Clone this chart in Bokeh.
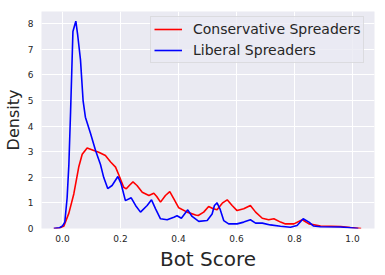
from bokeh.plotting import figure
from bokeh.models import Legend, LegendItem, FixedTicker, PrintfTickFormatter, Range1d, Title
from bokeh.embed import file_html
from bokeh.resources import INLINE

# Conservative spreaders KDE
cons_x = [-0.03, -0.01, 0.005, 0.022, 0.039, 0.056, 0.068, 0.085, 0.108, 0.125, 0.148, 0.166,
          0.183, 0.194, 0.211, 0.22, 0.232, 0.243, 0.257, 0.275, 0.298, 0.315, 0.325, 0.338,
          0.355, 0.37, 0.384, 0.401, 0.43, 0.459, 0.468, 0.487, 0.504, 0.52, 0.533, 0.551,
          0.568, 0.585, 0.602, 0.625, 0.648, 0.666, 0.689, 0.711, 0.729, 0.752, 0.769, 0.798,
          0.827, 0.85, 0.89, 0.959, 0.993, 1.03]
cons_y = [0.0, 0.02, 0.1, 0.6, 1.35, 2.4, 2.9, 3.15, 3.05, 2.98, 2.85, 2.6,
          2.4, 2.1, 1.61, 1.55, 1.7, 1.82, 1.68, 1.42, 1.29, 1.38, 1.25, 1.03,
          1.29, 1.44, 1.16, 0.81, 0.64, 0.53, 0.51, 0.64, 0.86, 0.77, 0.73, 0.99,
          1.12, 0.9, 0.7, 0.77, 0.9, 0.64, 0.4, 0.34, 0.38, 0.25, 0.18, 0.18,
          0.34, 0.18, 0.1, 0.08, 0.04, 0.0]

# Liberal spreaders KDE
lib_x = [-0.03, -0.01, 0.0, 0.008, 0.016, 0.022, 0.028, 0.036, 0.041, 0.046, 0.052, 0.062,
         0.071, 0.079, 0.097, 0.114, 0.131, 0.142, 0.156, 0.171, 0.191, 0.202, 0.217, 0.237,
         0.252, 0.269, 0.292, 0.307, 0.321, 0.338, 0.361, 0.384, 0.395, 0.41, 0.432, 0.447,
         0.47, 0.499, 0.516, 0.524, 0.533, 0.543, 0.556, 0.573, 0.602, 0.625, 0.648, 0.666,
         0.689, 0.717, 0.752, 0.786, 0.809, 0.83, 0.85, 0.865, 0.89, 0.959, 0.993, 1.02]
lib_y = [0.0, 0.03, 0.1, 0.25, 1.2, 2.5, 4.6, 7.7, 7.9, 8.1, 7.6, 6.6,
         5.0, 4.35, 3.7, 3.05, 2.5, 2.0, 1.56, 1.68, 2.03, 1.75, 1.09, 1.2,
         0.9, 0.64, 0.9, 1.12, 0.77, 0.38, 0.34, 0.44, 0.5, 0.4, 0.73, 0.47,
         0.28, 0.31, 0.57, 0.9, 1.0, 0.77, 0.31, 0.18, 0.18, 0.25, 0.34, 0.21,
         0.21, 0.14, 0.09, 0.05, 0.12, 0.38, 0.25, 0.1, 0.07, 0.06, 0.03, 0.0]

series_names = ["Conservative Spreaders", "Liberal Spreaders"]
x_ticks = [0.0, 0.2, 0.4, 0.6, 0.8, 1.0]
y_ticks = [0, 1, 2, 3, 4, 5, 6, 7, 8]
x_title = "Bot Score"
y_title = "Density"

FONT = "DejaVu Sans"
BG = "#EAEAF2"
TXT = "#262626"

p = figure(width=385, height=275, output_backend="svg", toolbar_location=None,
           x_range=Range1d(-0.0724, 1.076), y_range=Range1d(0, 8.48),
           min_border_left=41, min_border_right=11, min_border_top=11, min_border_bottom=47)
p.background_fill_color = BG
p.border_fill_color = "white"
p.outline_line_color = None

r1 = p.line(cons_x, cons_y, line_color="#ff0000", line_width=1.6)
r2 = p.line(lib_x, lib_y, line_color="#0000ff", line_width=1.6)

for ax in (p.xaxis[0], p.yaxis[0]):
    ax.axis_line_color = None
    ax.major_tick_line_color = None
    ax.minor_tick_line_color = None
    ax.major_tick_out = 0
    ax.major_tick_in = 0
    ax.minor_tick_out = 0
    ax.minor_tick_in = 0
    ax.major_label_text_font = FONT
    ax.major_label_text_font_size = "9px"
    ax.major_label_text_color = TXT
    ax.axis_label_text_font = FONT
    ax.axis_label_text_font_style = "normal"
    ax.axis_label_text_color = TXT

p.xaxis[0].ticker = FixedTicker(ticks=x_ticks)
p.xaxis[0].formatter = PrintfTickFormatter(format="%.1f")
p.xaxis[0].major_label_standoff = 6

p.yaxis[0].ticker = FixedTicker(ticks=y_ticks)
p.yaxis[0].axis_label = y_title
p.yaxis[0].axis_label_text_font_size = "16px"
p.yaxis[0].major_label_standoff = 8
p.yaxis[0].axis_label_standoff = 2

xt = Title(text=x_title, align="center", text_font=FONT, text_font_size="20px",
           text_font_style="normal", text_color=TXT, standoff=0, offset=0)
p.add_layout(xt, "below")

p.xgrid.grid_line_color = "white"
p.ygrid.grid_line_color = "white"
p.xgrid.grid_line_width = 1
p.ygrid.grid_line_width = 1

legend = Legend(items=[LegendItem(label=series_names[0], renderers=[r1]),
                       LegendItem(label=series_names[1], renderers=[r2])],
                location=(109, 165))
legend.label_text_font = FONT
legend.label_text_font_size = "14px"
legend.label_text_color = TXT
legend.background_fill_color = BG
legend.background_fill_alpha = 0.8
legend.border_line_color = "#cccccc"
legend.border_line_width = 1
legend.margin = 0
legend.padding = 3
legend.spacing = 3
legend.glyph_width = 28
legend.glyph_height = 18
legend.label_height = 18
legend.label_standoff = 11
p.add_layout(legend)

open("out.html", "w").write(file_html(p, INLINE))
